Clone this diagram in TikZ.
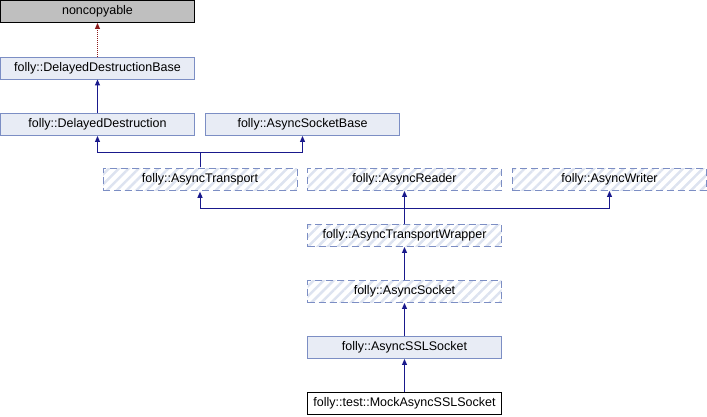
\documentclass[tikz,border=0pt]{standalone}
\usepackage{fontspec}
\setmainfont{Liberation Sans}
\usetikzlibrary{arrows.meta,patterns.meta}
\definecolor{boxfill}{RGB}{232,236,245}
\definecolor{boxline}{RGB}{124,142,196}
\definecolor{hatch}{RGB}{221,227,240}
\definecolor{edgeblue}{RGB}{25,25,140}
\definecolor{edgered}{RGB}{139,26,26}
\definecolor{greyfill}{RGB}{191,191,191}
\tikzset{
  cls/.style={minimum width=194pt,minimum height=22pt,inner sep=0pt,line width=0.9pt,
    font=\fontsize{12.5}{14}\selectfont},
  solidbox/.style={cls,draw=boxline,fill=boxfill},
  hatchbox/.style={cls,draw=boxline,dash pattern=on 7pt off 4pt,
    pattern={Lines[angle=45,distance=7pt,line width=2.5pt]},pattern color=hatch},
  greybox/.style={cls,draw=black,fill=greyfill},
  whitebox/.style={cls,draw=black,fill=white},
  pub/.style={draw=edgeblue,line width=1pt,-{Triangle[length=6pt,width=5pt]}},
  priv/.style={draw=edgered,line width=1pt,dash pattern=on 1pt off 1pt,-{Triangle[length=6pt,width=5pt,fill=edgered]}}
}
\begin{document}
\begin{tikzpicture}[x=1pt,y=-1pt]
\useasboundingbox (0,0) rectangle (707,416);
\node[greybox] (nc) at (97.5,11.5) {noncopyable};
\node[solidbox] (ddb) at (97.5,68) {folly::DelayedDestructionBase};
\node[solidbox] (dd) at (97.5,124.5) {folly::DelayedDestruction};
\node[solidbox] (asb) at (302.5,124.5) {folly::AsyncSocketBase};
\node[hatchbox] (at) at (200,179.5) {folly::AsyncTransport};
\node[hatchbox] (ar) at (404.5,179.5) {folly::AsyncReader};
\node[hatchbox] (aw) at (609.5,179.5) {folly::AsyncWriter};
\node[hatchbox] (atw) at (404.5,235.5) {folly::AsyncTransportWrapper};
\node[hatchbox] (as) at (404.5,291.5) {folly::AsyncSocket};
\node[solidbox] (ssl) at (404.5,347.5) {folly::AsyncSSLSocket};
\node[whitebox] (mock) at (404.5,403.5) {folly::test::MockAsyncSSLSocket};
\coordinate (bus1) at (0,152.5);
\coordinate (bus2) at (0,208);
\draw[priv] (ddb.north) -- (nc.south);
\draw[pub] (dd.north) -- (ddb.south);
\draw[pub] (at.north) -- (at.north |- bus1) -| (dd.south);
\draw[pub] (at.north) -- (at.north |- bus1) -| (asb.south);
\draw[pub] (atw.north) -- (atw.north |- bus2) -| (at.south);
\draw[pub] (atw.north) -- (ar.south);
\draw[pub] (atw.north) -- (atw.north |- bus2) -| (aw.south);
\draw[pub] (as.north) -- (atw.south);
\draw[pub] (ssl.north) -- (as.south);
\draw[pub] (mock.north) -- (ssl.south);
\end{tikzpicture}
\end{document}
